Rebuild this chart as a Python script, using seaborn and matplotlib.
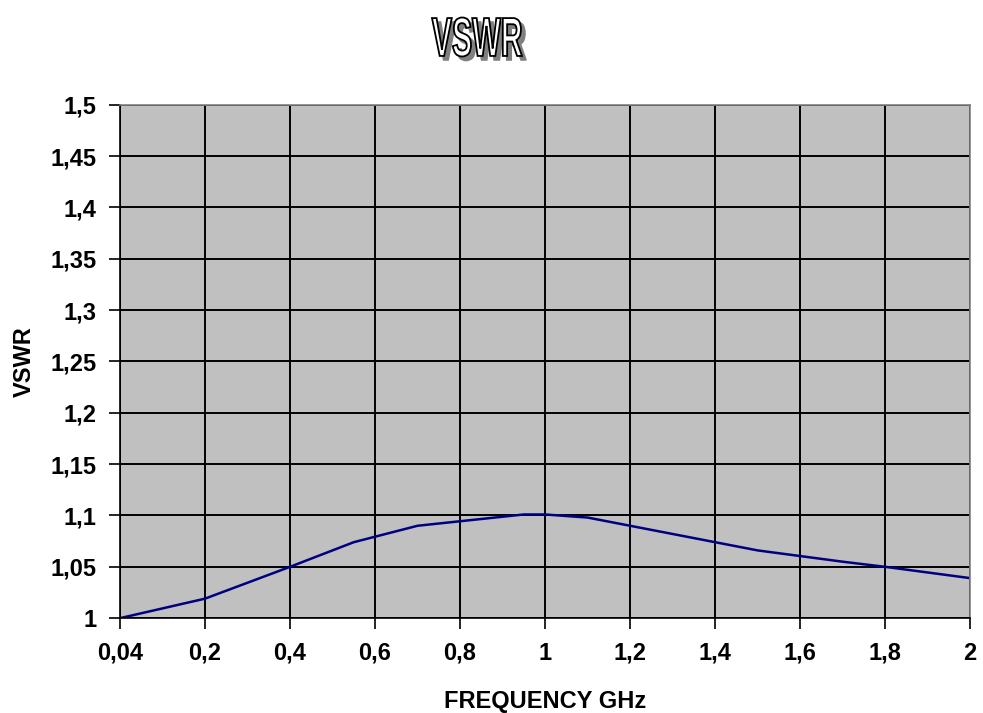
import numpy as np
import pandas as pd
import matplotlib
matplotlib.use("Agg")
import matplotlib.pyplot as plt
from matplotlib.ticker import FuncFormatter
from matplotlib.textpath import TextPath
from matplotlib.font_manager import FontProperties
from matplotlib.patches import PathPatch
from matplotlib.transforms import Affine2D
import seaborn as sns

# category labels shown on the x axis (evenly spaced, Excel style)
tick_freqs = [0.04, 0.2, 0.4, 0.6, 0.8, 1.0, 1.2, 1.4, 1.6, 1.8, 2.0]
tick_labels = ["0,04", "0,2", "0,4", "0,6", "0,8", "1", "1,2", "1,4", "1,6", "1,8", "2"]

# measured points
freq = [0.04, 0.2, 0.4, 0.55, 0.7, 0.95, 1.0, 1.1, 1.5, 1.7, 1.8, 2.0]
vswr = [1.0, 1.019, 1.05, 1.074, 1.09, 1.101, 1.101, 1.098, 1.066, 1.055, 1.05, 1.039]

y_ticks = [1.0, 1.05, 1.1, 1.15, 1.2, 1.25, 1.3, 1.35, 1.4, 1.45, 1.5]

sns.set_style("ticks")
plt.rcParams["font.family"] = ["Liberation Sans", "DejaVu Sans"]
plt.rcParams["text.color"] = "black"
plt.rcParams["axes.labelcolor"] = "black"
plt.rcParams["xtick.color"] = "black"
plt.rcParams["ytick.color"] = "black"

# place frequencies on the category axis
df = pd.DataFrame({"freq": freq, "vswr": vswr})
df["pos"] = np.interp(df["freq"], tick_freqs, np.arange(len(tick_freqs)))

fig = plt.figure(figsize=(9.83, 7.13), dpi=100)
ax = fig.add_axes([0.122, 0.133, 0.865, 0.72])
ax.set_facecolor("#C0C0C0")

sns.lineplot(data=df, x="pos", y="vswr", color="#000080", linewidth=1.8, ax=ax)

ax.set_xlim(0, len(tick_freqs) - 1)
ax.set_ylim(1.0, 1.5)
ax.set_xticks(np.arange(len(tick_freqs)))
ax.set_xticklabels(tick_labels)
ax.set_yticks(y_ticks)
ax.yaxis.set_major_formatter(FuncFormatter(lambda v, p: f"{v:g}".replace(".", ",")))

ax.grid(True, color="black", linewidth=1.4)
for s in ax.spines.values():
    s.set_color("black")
    s.set_linewidth(1.2)
ax.spines["right"].set_color("#808080")
ax.spines["top"].set_color("#808080")
ax.tick_params(axis="both", direction="out", length=8, width=1.2, color="black",
               labelsize=17, pad=9)
for lab in ax.get_xticklabels() + ax.get_yticklabels():
    lab.set_fontweight("bold")

ax.set_xlabel("FREQUENCY GHz", fontsize=17, fontweight="bold", labelpad=18)
ax.set_ylabel("VSWR", fontsize=17, fontweight="bold", labelpad=10)

# condensed outlined title with drop shadow
tp = TextPath((0, 0), "VSWR", size=100, prop=FontProperties(family="Liberation Sans", weight="bold"))
ext = tp.get_extents()
sx = 90 / ext.width
sy = 39 / ext.height
cx, cy = 477, 713 - 37
base = Affine2D().translate(-ext.x0 - ext.width / 2, -ext.y0 - ext.height / 2).scale(sx, sy)
shadow = PathPatch(base.transform_path(tp), transform=Affine2D().translate(cx + 4, cy - 4),
                   facecolor="#808080", edgecolor="#808080", linewidth=1.2)
main = PathPatch(base.transform_path(tp), transform=Affine2D().translate(cx, cy),
                 facecolor="white", edgecolor="black", linewidth=1.3)
fig.patches.extend([shadow, main])

fig.savefig("out.png", dpi=100)
